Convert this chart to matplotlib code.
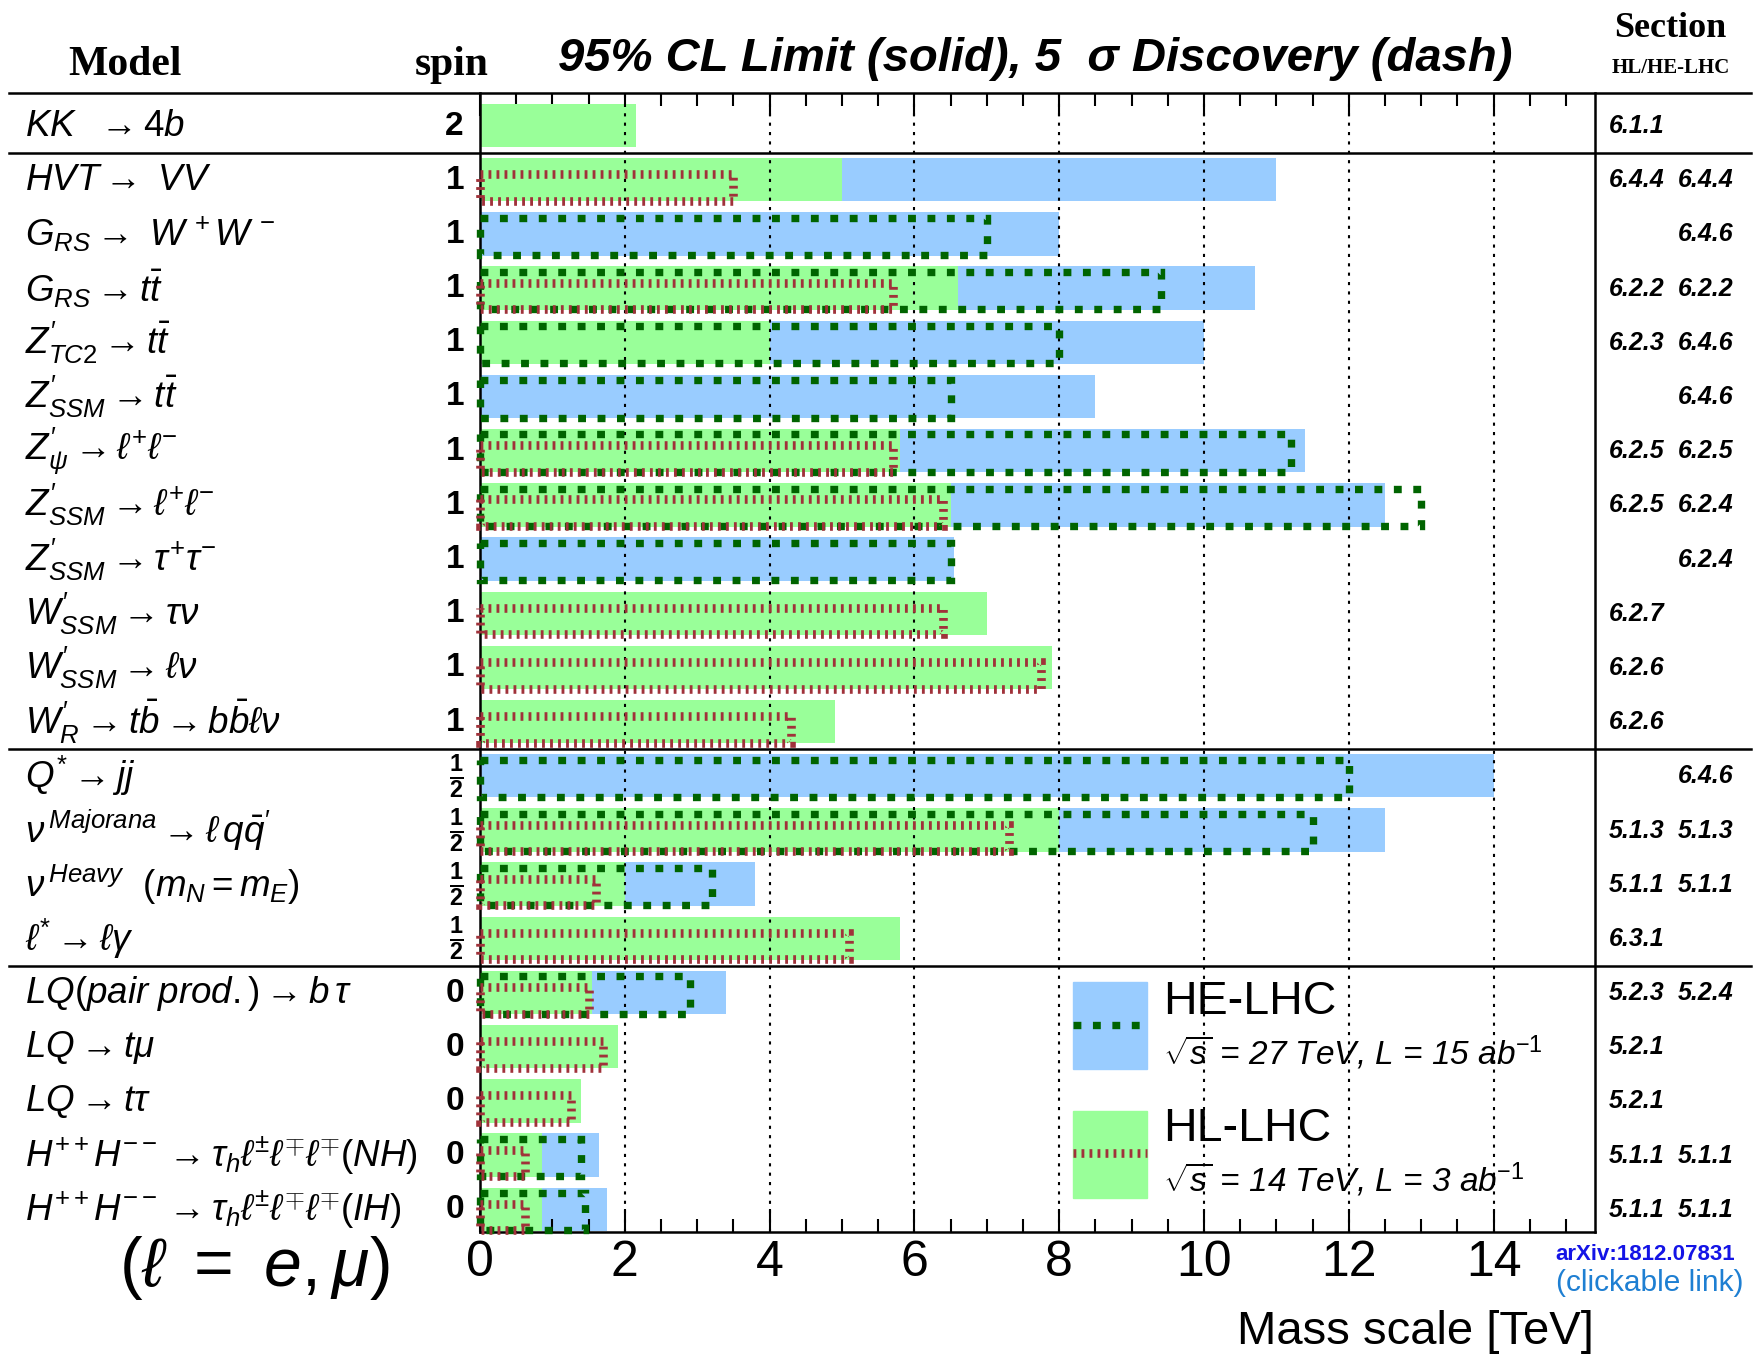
import matplotlib
matplotlib.use('Agg')
import matplotlib.pyplot as plt
from matplotlib.patches import Rectangle
from matplotlib.lines import Line2D
from matplotlib.transforms import blended_transform_factory

plt.rcParams['font.family'] = ['Liberation Sans', 'DejaVu Sans']
plt.rcParams['mathtext.fontset'] = 'custom'
plt.rcParams['mathtext.rm'] = 'Liberation Sans'
plt.rcParams['mathtext.it'] = 'Liberation Sans:italic'
plt.rcParams['mathtext.bf'] = 'Liberation Sans:bold'

# ---- data (TeV) ----
models = [
    r'$KK\ \ \rightarrow 4b$',
    r'$HVT \rightarrow\ VV$',
    r'$G_{RS} \rightarrow\ W^{\,+}W^{\,-}$',
    r'$G_{RS} \rightarrow t\bar{t}$',
    r'$Z^{\prime}_{TC2} \rightarrow t\bar{t}$',
    r'$Z^{\prime}_{SSM} \rightarrow t\bar{t}$',
    r'$Z^{\prime}_{\psi} \rightarrow \ell^{+}\ell^{-}$',
    r'$Z^{\prime}_{SSM} \rightarrow \ell^{+}\ell^{-}$',
    r'$Z^{\prime}_{SSM} \rightarrow \tau^{+}\tau^{-}$',
    r'$W^{\prime}_{SSM} \rightarrow \tau\nu$',
    r'$W^{\prime}_{SSM} \rightarrow \ell\nu$',
    r'$W^{\prime}_{R} \rightarrow t\bar{b} \rightarrow b\bar{b}\ell\nu$',
    r'$Q^{*} \rightarrow jj$',
    r'$\nu^{\,Majorana} \rightarrow \ell\, q\bar{q}^{\prime}$',
    r'$\nu^{\,Heavy}\ \ (m_{N} = m_{E})$',
    r'$\ell^{*} \rightarrow \ell\gamma$',
    r'$LQ(pair\ prod.) \rightarrow b\,\tau$',
    r'$LQ \rightarrow t\mu$',
    r'$LQ \rightarrow t\tau$',
    r'$H^{++}H^{--} \rightarrow \tau_{h}\ell^{\pm}\ell^{\mp}\ell^{\mp}(NH)$',
    r'$H^{++}H^{--} \rightarrow \tau_{h}\ell^{\pm}\ell^{\mp}\ell^{\mp}(IH)$',
]
half = r'$\frac{\mathbf{1}}{\mathbf{2}}$'
spins = ['2', '1', '1', '1', '1', '1', '1', '1', '1', '1', '1', '1',
         half, half, half, half, '0', '0', '0', '0', '0']

# HL-LHC 95% CL limit (green fill), HE-LHC limit (blue fill)
hl_limit = [2.15, 5.0, None, 6.6, 4.0, None, 5.8, 6.5, None, 7.0, 7.9, 4.9,
            None, 8.0, 2.0, 5.8, 1.55, 1.9, 1.4, 0.85, 0.85]
he_limit = [None, 11.0, 8.0, 10.7, 10.0, 8.5, 11.4, 12.5, 6.55, None, None, None,
            14.0, 12.5, 3.8, None, 3.4, None, None, 1.65, 1.75]
# 5 sigma discovery (dashed boxes)
hl_disc = [None, 3.5, None, 5.7, None, None, 5.7, 6.4, None, 6.4, 7.75, 4.3,
           None, 7.3, 1.6, 5.1, 1.5, 1.7, 1.25, 0.62, 0.62]
he_disc = [None, None, 7.0, 9.4, 8.0, 6.5, 11.2, 13.0, 6.5, None, None, None,
           12.0, 11.5, 3.2, None, 2.9, None, None, 1.4, 1.45]

sec_hl = ['6.1.1', '6.4.4', '', '6.2.2', '6.2.3', '', '6.2.5', '6.2.5', '', '6.2.7',
          '6.2.6', '6.2.6', '', '5.1.3', '5.1.1', '6.3.1', '5.2.3', '5.2.1', '5.2.1',
          '5.1.1', '5.1.1']
sec_he = ['', '6.4.4', '6.4.6', '6.2.2', '6.4.6', '6.4.6', '6.2.5', '6.2.4', '6.2.4', '',
          '', '', '6.4.6', '5.1.3', '5.1.1', '', '5.2.4', '', '', '5.1.1', '5.1.1']

group_edges = [0.5, 11.5, 15.5]

blue = '#99ccff'
green = '#99ff99'
dkgreen = '#006400'
dkred = '#a0323a'
he_ls = (0, (1.07, 1.57))
hl_ls = (0, (0.33, 0.6))

W, H = 1760, 1356
fig = plt.figure(figsize=(W / 100, H / 100), dpi=100)


def fx(px):
    return px / W


def fy(py):
    return 1 - py / H


ax = fig.add_axes([fx(480), fy(1231.5), 1115 / W, 1138.5 / H])
n = len(models)
ax.set_xlim(0, 15.4)
ax.set_ylim(n - 0.6, -0.61)

# fills: HE first, HL on top
for i, v in enumerate(he_limit):
    if v:
        ax.barh(i - 0.01, v, height=0.8, color=blue, zorder=1)
for i, v in enumerate(hl_limit):
    if v:
        ax.barh(i - 0.01, v, height=0.8, color=green, zorder=2)

# grid (dotted)
for t in range(2, 15, 2):
    ax.axvline(t, color='k', lw=1.5, ls=(0, (1.5, 3)), zorder=3)

# discovery boxes
for i, v in enumerate(he_disc):
    if v:
        ax.add_patch(Rectangle((0, i - 0.31), v, 0.69, fill=False, ec=dkgreen,
                               lw=5.3, ls=he_ls, clip_on=False, zorder=4))
for i, v in enumerate(hl_disc):
    if v:
        ax.add_patch(Rectangle((0, i - 0.11), v, 0.49, fill=False, ec=dkred,
                               lw=6.2, ls=hl_ls, clip_on=False, zorder=5))

# axes styling
ax.set_yticks([])
ax.set_xticks(range(0, 15, 2))
ax.set_xticks([x * 0.5 for x in range(31)], minor=True)
ax.tick_params(axis='x', which='both', direction='in', top=True, bottom=True,
               labelsize=36, pad=6, width=1.5)
ax.tick_params(axis='x', which='major', length=16.5)
ax.tick_params(axis='x', which='minor', length=9.5)
ax.spines['top'].set_visible(False)
for s in ['left', 'right', 'bottom']:
    ax.spines[s].set_linewidth(1.8)

# horizontal table lines
ytr = ax.get_yaxis_transform()
for yv in [ax.get_ylim()[1]] + group_edges:
    ax.plot([-0.4224, 1.14], [yv, yv], color='k', lw=1.8, transform=ytr,
            clip_on=False, zorder=6)

# row labels, spins, sections
btr = blended_transform_factory(fig.transFigure, ax.transData)
for i in range(n):
    ax.text(fx(25), i, models[i], transform=btr, fontsize=26.5, ha='left', va='center')
    ax.text(fx(464), i, spins[i], transform=btr, fontsize=24, fontweight='bold',
            ha='right', va='center')
    ax.text(fx(1609), i, sec_hl[i], transform=btr, fontsize=18, fontweight='bold',
            style='italic', ha='left', va='center')
    ax.text(fx(1733), i, sec_he[i], transform=btr, fontsize=18, fontweight='bold',
            style='italic', ha='right', va='center')

# headers
fig.text(fx(125), fy(75), 'Model', family='Liberation Serif', fontweight='bold',
         fontsize=30, ha='center', va='baseline')
fig.text(fx(452), fy(75), 'spin', family='Liberation Serif', fontweight='bold',
         fontsize=30, ha='center', va='baseline')
fig.text(fx(1035), fy(59), '95% CL Limit (solid), 5  σ Discovery (dash)',
         fontweight='bold', style='italic', fontsize=34, ha='center', va='center')
fig.text(fx(1670), fy(37), 'Section', family='Liberation Serif', fontweight='bold',
         fontsize=26, ha='center', va='baseline')
fig.text(fx(1671), fy(73), 'HL/HE-LHC', family='Liberation Serif', fontweight='bold',
         fontsize=15, ha='center', va='baseline')

# legend
fig.add_artist(Rectangle((fx(1073), fy(1069)), 74 / W, 87.5 / H, color=blue,
                         transform=fig.transFigure))
fig.add_artist(Rectangle((fx(1073), fy(1198)), 74 / W, 87.5 / H, color=green,
                         transform=fig.transFigure))
fig.add_artist(Line2D([fx(1073), fx(1147)], [fy(1025), fy(1025)], color=dkgreen,
                      lw=5.3, ls=he_ls, transform=fig.transFigure))
fig.add_artist(Line2D([fx(1073), fx(1147)], [fy(1153), fy(1153)], color=dkred,
                      lw=6.2, ls=hl_ls, transform=fig.transFigure))
fig.text(fx(1163), fy(1002), 'HE-LHC', fontsize=33.5, va='center')
fig.text(fx(1163), fy(1053), r'$\sqrt{s}$ = 27 TeV, L = 15 ab$^{-1}$',
         style='italic', fontsize=24, va='center')
fig.text(fx(1163), fy(1129), 'HL-LHC', fontsize=33.5, va='center')
fig.text(fx(1163), fy(1180), r'$\sqrt{s}$ = 14 TeV, L = 3 ab$^{-1}$',
         style='italic', fontsize=24, va='center')

# bottom texts
fig.text(fx(1594), fy(1332), 'Mass scale [TeV]', fontsize=34, ha='right', va='center')
fig.text(fx(254), fy(1268), r'$(\ell\ =\ e, \mu)$', fontsize=49,
         ha='center', va='center')
fig.text(fx(1645), fy(1255), 'arXiv:1812.07831', color='#1414e6', fontweight='bold',
         fontsize=16, ha='center', va='center')
fig.text(fx(1650), fy(1283), '(clickable link)', color='#1e7fd2', fontsize=21.5,
         ha='center', va='center')

plt.savefig('out.png', dpi=100)
